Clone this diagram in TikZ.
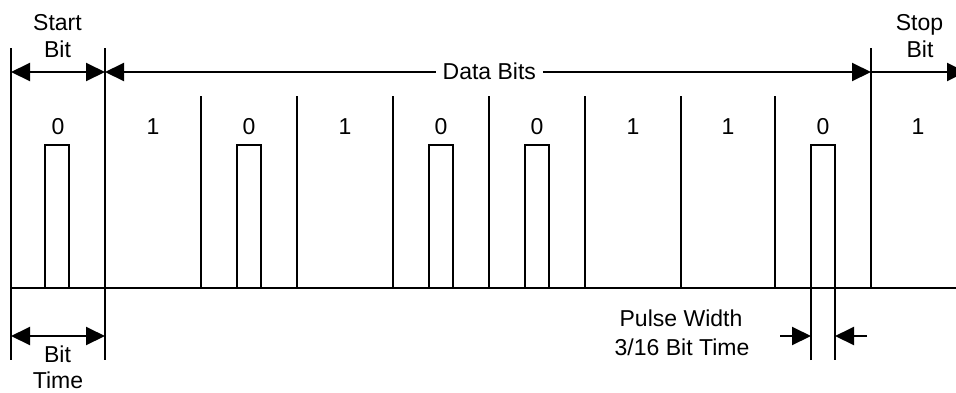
\documentclass[tikz,border=0pt]{standalone}
\usepackage{fontspec}
\setmainfont{Liberation Sans}
\usetikzlibrary{arrows.meta}
\begin{document}
\begin{tikzpicture}[x=1pt,y=-1pt,line width=2pt,
  lbl/.style={font=\fontsize{23}{27}\selectfont, inner sep=0pt, anchor=base},
  dim/.style={{Triangle[length=19pt,width=18pt]}-{Triangle[length=19pt,width=18pt]}},
  tipend/.style={-{Triangle[length=19pt,width=18pt]}}]
\useasboundingbox (0,0) rectangle (956,392);
% cell boundaries
\foreach \x [count=\i from 0] in {11,105,201,297,393,489,585,681,775,871,966}{
  \coordinate (b\i) at (\x,288);
  \coordinate (h\i) at (\x,96);
}
\foreach \x [count=\i from 0] in {58,153,249,345,441,537,633,728,823,918}{
  \coordinate (c\i) at (\x,134);
}
\coordinate (s0) at (11,48);   \coordinate (d0) at (11,360);
\coordinate (s1) at (105,48);  \coordinate (d1) at (105,360);
\coordinate (s9) at (871,48);
% baseline
\coordinate (bend) at (956,288);
\draw (b0) -- (bend);
% long vertical markers
\draw (s0) -- (d0);
\draw (s1) -- (d1);
\draw (s9) -- (b9);
% inner boundaries
\foreach \i in {2,...,8}{ \draw (h\i) -- (b\i); }
% bit values
\foreach \i/\v in {0/0,1/1,2/0,3/1,4/0,5/0,6/1,7/1,8/0,9/1}{
  \node[lbl] (v\i) at (c\i) {\v};
}
% pulses for zero bits
\foreach \x in {57,249,441,537}{
  \draw (\x-12,288) -- (\x-12,145) -- (\x+12,145) -- (\x+12,288);
}
\coordinate (pl) at (811,360); \coordinate (pr) at (835,360);
\draw (pl) -- (811,145) -- (835,145) -- (pr);
% top labels
\node[lbl] (start1) at (57.5,30) {Start};
\node[lbl] (start2) at (57.5,57) {Bit};
\node[lbl] (stop1) at (919.5,30) {Stop};
\node[lbl] (stop2) at (920,57) {Bit};
\node[lbl, inner sep=6pt] (data) at (489.3,79) {Data Bits};
% top dimension arrows
\coordinate (a0) at (11,72); \coordinate (a1) at (105,72);
\coordinate (a9) at (871,72); \coordinate (a10) at (966,72);
\draw[dim] (a0) -- (a1);
\draw[tipend] (data.west |- a1) -- (a1);
\draw[tipend] (data.east |- a1) -- (a9);
\draw[tipend] (a9) -- (a10);
% bottom: bit time
\coordinate (t0) at (11,336); \coordinate (t1) at (105,336);
\draw[dim] (t0) -- (t1);
\node[lbl] (bt1) at (57.5,362) {Bit};
\node[lbl] (bt2) at (58,388) {Time};
% pulse width
\coordinate (pwl) at (780,336); \coordinate (pwr) at (867,336);
\draw[tipend] (pwl) -- (811,336);
\draw[tipend] (pwr) -- (835,336);
\node[lbl] (pw1) at (681,326.7) {Pulse Width};
\node[lbl] (pw2) at (682,355) {3/16 Bit Time};
\end{tikzpicture}
\end{document}
